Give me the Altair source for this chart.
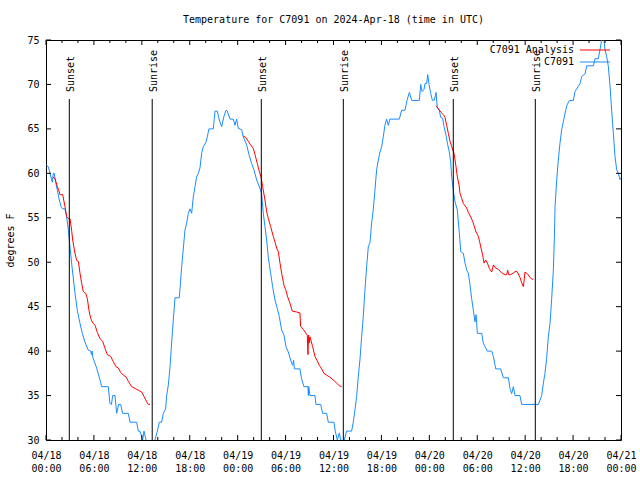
import altair as alt
import pandas as pd

MONO = "DejaVu Sans Mono"
BLUE = "#1a8cff"
RED = "#ff0000"

# hours since 2024-04-18 00:00 UTC
blue_h = [0.0, 0.3, 0.5, 0.79, 0.92, 1.04, 1.21, 1.42, 1.67, 1.88, 2.09, 2.38, 2.59, 2.8, 2.92,
          3.21, 3.63, 3.92, 4.26, 4.55, 4.88, 5.3, 5.6, 5.7, 5.78, 5.86, 6.34, 6.76, 6.97, 7.8,
          8.01, 8.2, 8.35, 8.64, 8.85, 9.1, 9.35, 9.6, 10.31, 10.52, 11.35, 11.56, 11.77, 12.1,
          12.27, 12.52, 13.0, 13.65, 13.94, 14.19, 14.48, 14.69, 14.98, 15.11, 15.32, 15.53,
          15.73, 15.94, 16.15, 16.69, 16.78, 16.99, 17.2, 17.4, 17.61, 17.82, 18.03, 18.24,
          18.45, 18.66, 18.86, 19.07, 19.28, 19.49, 19.7, 20.03, 20.2, 20.4, 20.95, 21.16,
          21.45, 21.7, 21.99, 22.28, 22.54, 22.7, 23.04, 23.45, 23.66, 23.87, 24.08, 24.5,
          24.71, 25.12, 25.42, 25.75, 26.04, 26.38, 26.71, 27.0, 27.21, 27.42, 27.63, 27.84,
          28.13, 28.38, 28.67, 28.96, 29.21, 29.5, 29.8, 30.05, 30.34, 30.63, 30.88, 31.0,
          31.1, 31.8, 32.0, 32.3, 32.8, 32.85, 32.9, 33.05, 33.68, 33.8, 34.4, 34.64, 35.14,
          35.35, 36.06, 36.22, 36.48, 36.73, 36.9, 37.1, 37.35, 37.64, 38.27, 38.48, 38.69,
          38.9, 39.1, 39.31, 39.52, 39.73, 39.94, 40.15, 40.36, 40.57, 40.77, 40.98, 41.19,
          41.4, 41.61, 41.82, 42.03, 42.23, 42.44, 42.65, 42.86, 43.07, 44.24, 44.53, 44.95,
          45.2, 45.5, 45.79, 46.75, 46.92, 47.08, 47.33, 47.46, 47.67, 47.8, 47.96, 48.17,
          48.38, 48.63, 48.84, 49.0, 49.25, 49.42, 49.67, 49.84, 50.09, 50.26, 50.5, 50.67,
          50.8, 51.0, 51.22, 51.5, 51.76, 51.93, 52.26, 52.47, 52.68, 52.89, 53.1, 53.3,
          53.51, 53.72, 53.85, 54.01, 54.56, 54.76, 54.97, 55.27, 55.81, 56.02, 56.31, 56.93,
          57.27, 57.9, 58.1, 58.31, 58.52, 58.73, 59.35, 59.56, 61.65, 61.86, 62.07, 62.28,
          62.48, 62.69, 62.9, 63.11, 63.32, 63.53, 63.65, 63.74, 63.95, 64.15, 64.36, 64.57,
          64.78, 64.99, 65.2, 65.53, 66.03, 66.24, 66.87, 67.08, 67.5, 67.71, 68.54, 68.75,
          69.16, 69.37, 69.58, 69.75, 69.87, 70.0, 70.21, 70.42, 70.63, 70.83, 71.04, 71.25,
          71.46, 71.67, 71.88, 72.0]
blue_v = [61, 60.7, 60, 59, 60, 60, 59, 58.1, 57, 56.25, 56, 56, 55.1, 53.6, 52.5,
          49.9, 46.5, 44.6, 43.1, 42, 41, 40.1, 40, 39.6, 40, 39.3, 38.1, 36.75, 36, 36,
          34.1, 34, 35, 35, 33, 34, 34, 33, 33, 32, 32, 31, 31, 30,
          31, 30, 29, 30, 31, 32, 32, 33, 33.5, 35, 36.2, 38.25,
          40.9, 43.5, 46, 46, 47, 49.5, 51.6, 53.6, 54.4, 55.5, 56, 55.5,
          57.4, 58.5, 59.6, 60, 60.6, 62.25, 63, 63.5, 64.1, 65, 65, 67,
          67, 66, 65.25, 66.4, 67.1, 67, 66.1, 66.1, 65.4, 66.1, 65.06, 64.9,
          64.1, 63.2, 62.1, 61.1, 60.4, 59.25, 58.5, 57.75, 55.5, 54, 52.5, 50.5,
          48.75, 47.25, 45.75, 44.8, 43.9, 42.4, 41.8, 40.5, 39.9, 39, 38.4, 39,
          38, 38, 36.9, 36, 36, 35, 36, 35, 35, 34, 34, 33, 33,
          32, 32, 31, 30, 30.8, 30, 29.3, 30, 31, 31, 32, 33.4,
          34.9, 37.1, 39, 41.6, 43.9, 46.9, 49.5, 51.75, 52.2, 54.4, 55.9, 58.1,
          60.4, 61.5, 62.4, 63, 64.1, 65.4, 66.1, 65.4, 66.1, 66.1, 67.1, 67.1,
          68.2, 69.1, 68.2, 68.2, 70, 69.2, 69.4, 70.1, 70.1, 71.1, 70, 69,
          68.2, 68.25, 69.1, 67.3, 67.1, 66.3, 66.2, 65.25, 64.3, 63.4, 62.4, 61.3,
          59.6, 58.1, 56.8, 55.9, 53.25, 51.2, 51, 49.9, 49.1, 48.75, 47.4, 45.9,
          44.6, 43.3, 44.1, 42, 42, 40.9, 40.5, 40, 40, 39.4, 38, 38,
          37, 37, 35.8, 35.2, 36, 35, 35, 34, 34, 34.5, 35, 36.4,
          37.5, 39.2, 41.6, 43.1, 45.9, 49.1, 52.5, 56.25, 59.25, 61.5, 63.4, 64.9,
          65.8, 66.75, 67.6, 68.2, 68.2, 69.2, 70.1, 70.9, 71.2, 72.1, 72.1, 72.9,
          72.9, 73.9, 75, 75.5, 75, 73.9, 73.1, 72, 69.75, 67.1, 64.5, 61.9,
          60.4, 60, 59.3, 59.5]

red1_h = [0.83, 1.13, 1.42, 1.67, 1.75, 2.09, 2.38, 2.59, 2.8, 3.0, 3.21, 3.34, 3.63, 3.84,
          4.05, 4.26, 4.47, 4.67, 4.97, 5.18, 5.38, 5.59, 5.84, 6.14, 6.43, 6.76, 7.1, 7.39,
          7.68, 8.1, 8.43, 8.76, 9.06, 9.35, 9.68, 10.02, 10.31, 10.73, 11.14, 11.56, 11.98,
          12.27, 12.6, 12.81, 13.02]
red1_v = [59.6, 59.4, 58.5, 57.9, 57.6, 57.6, 56.25, 55.1, 54.9, 54.9, 53.6, 52.5, 51, 50.2,
          50.1, 48.75, 47.6, 46.7, 46.5, 45.9, 44.6, 43.7, 43.2, 42.9, 42.1, 41.4, 41.1, 40.3,
          39.6, 39.4, 38.8, 38.25, 38.1, 37.6, 37.3, 37.1, 36.6, 36, 35.8, 35.6, 35.4,
          34.9, 34.3, 34.0, 34.0]
red2_h = [24.71, 25.0, 25.33, 25.62, 25.96, 26.17, 26.46, 26.71, 26.92, 27.13, 27.42, 27.63,
          27.84, 28.13, 28.46, 28.7, 28.88, 29.09, 29.3, 29.51, 29.8, 30.0, 30.26, 30.55,
          30.84, 31.38, 31.8, 31.88, 32.22, 32.55, 32.72, 32.8, 32.88, 32.95, 33.05, 33.39,
          33.68, 33.97, 34.22, 34.51, 34.81, 35.14, 35.56, 35.97, 36.39, 36.73, 37.02]
red2_v = [64.2, 64.05, 63.6, 63.2, 62.8, 62.1, 61.1, 60.2, 59.6, 58.5, 57, 55.7,
          54.9, 54, 52.9, 52.2, 51.6, 51.2, 49.9, 48.75, 47.4, 46.95, 46.1, 45.4,
          44.5, 44.4, 44.3, 42.8, 42.45, 42.0, 41.8, 39.6, 41.8, 40.9, 41.6, 40.5,
          39.4, 38.9, 38.4, 38, 37.5, 37.3, 37.05, 36.75, 36.4, 36.1, 36.0]
red3_h = [48.84, 49.13, 49.42, 49.76, 49.96, 50.17, 50.38, 50.59, 50.8, 51.09, 51.34, 51.51,
          51.72, 51.84, 52.05, 52.26, 52.68, 52.89, 53.18, 53.43, 53.85, 54.14, 54.3, 54.47,
          54.68, 54.85, 55.06, 55.27, 55.52, 55.81, 56.02, 56.23, 56.64, 57.06, 57.48, 57.69,
          57.81, 57.94, 58.19, 58.52, 58.85, 59.02, 59.35, 59.56, 59.77, 59.85, 59.98, 60.27,
          60.61, 60.82, 61.02]
red3_v = [67.6, 67.3, 66.9, 66.6, 66.3, 65.4, 64.5, 63.6, 63, 62.25, 60.75, 59.6,
          58.7, 57.75, 57.2, 56.6, 56.1, 55.6, 55.1, 54.6, 53.4, 52.9, 52.3, 51.6,
          50.8, 49.9, 50.25, 49.9, 49.3, 48.9, 49.7, 49.4, 49.2, 48.8, 48.6, 48.6,
          49.1, 48.6, 48.6, 48.8, 49.0, 48.9, 48.3, 47.7, 47.25, 47.8, 48.9, 48.7,
          48.3, 48.1, 48.1]

event_h = [2.92, 13.30, 26.96, 37.23, 51.0, 61.27]
event_label = ["Sunset", "Sunrise", "Sunset", "Sunrise", "Sunset", "Sunrise"]

x_major = [0, 6, 12, 18, 24, 30, 36, 42, 48, 54, 60, 66, 72]
x_all_ticks = list(range(0, 73, 2))
y_ticks = [30, 35, 40, 45, 50, 55, 60, 65, 70, 75]

W, H = 575, 400

blue_df = pd.DataFrame({"h": blue_h, "v": blue_v})
red_df = pd.DataFrame({
    "h": red1_h + red2_h + red3_h,
    "v": red1_v + red2_v + red3_v,
    "seg": [1] * len(red1_h) + [2] * len(red2_h) + [3] * len(red3_h),
})
ev_df = pd.DataFrame({"h": event_h, "label": event_label})
xt_df = pd.DataFrame({"h": x_all_ticks, "len": [5 if t % 6 == 0 else 3 for t in x_all_ticks]})
yt_df = pd.DataFrame({"v": y_ticks})

xs = alt.Scale(domain=[0, 72], nice=False, zero=False)
ys = alt.Scale(domain=[30, 75], nice=False, zero=False)

x_axis = alt.Axis(
    values=x_major, ticks=False, domain=False, grid=False, title=None,
    labelFont=MONO, labelFontSize=10, labelColor="black", labelPadding=10,
    labelLineHeight=13, labelFlush=False, labelOverlap=False, labelBound=False,
    labelAlign="center", labelBaseline="top",
    labelExpr="['04/' + (18 + floor(datum.value / 24)), (datum.value % 24 < 10 ? '0' : '') + (datum.value % 24) + ':00']",
)
y_axis = alt.Axis(
    values=y_ticks, ticks=False, domain=False, grid=False,
    labelFont=MONO, labelFontSize=10, labelColor="black", labelPadding=7,
    labelOverlap=False, labelFlush=False,
    title="degrees F", titleFont=MONO, titleFontSize=10, titleFontWeight="normal",
    titleColor="black", titleX=-36, titleY=200, titleAngle=270,
    titleAlign="center", titleBaseline="middle",
)

blue = alt.Chart(blue_df).mark_line(color=BLUE, strokeWidth=1, clip=True).encode(
    x=alt.X("h:Q", scale=xs, axis=x_axis),
    y=alt.Y("v:Q", scale=ys, axis=y_axis),
)
red = alt.Chart(red_df).mark_line(color=RED, strokeWidth=1, clip=True).encode(
    x=alt.X("h:Q", scale=xs),
    y=alt.Y("v:Q", scale=ys),
    detail="seg:N",
)
ev_rule = alt.Chart(ev_df).mark_rule(color="black", strokeWidth=1).encode(
    x=alt.X("h:Q", scale=xs),
    y=alt.value(59), y2=alt.value(H),
)
ev_text = alt.Chart(ev_df).mark_text(
    font=MONO, fontSize=10, angle=270, align="left", baseline="middle", dy=2, color="black"
).encode(
    x=alt.X("h:Q", scale=xs),
    y=alt.value(52),
    text="label:N",
)
# inward ticks on all four sides
xt_b = alt.Chart(xt_df).transform_calculate(y0=f"{H}", y1=f"{H} - datum.len").mark_rule(
    color="black", strokeWidth=1).encode(
    x=alt.X("h:Q", scale=xs),
    y=alt.Y("y0:Q", scale=None), y2="y1:Q",
)
xt_t = alt.Chart(xt_df).transform_calculate(y0="0", y1="datum.len").mark_rule(
    color="black", strokeWidth=1).encode(
    x=alt.X("h:Q", scale=xs),
    y=alt.Y("y0:Q", scale=None), y2="y1:Q",
)
yt_l = alt.Chart(yt_df).mark_rule(color="black", strokeWidth=1).encode(
    y=alt.Y("v:Q", scale=ys), x=alt.value(0), x2=alt.value(5),
)
yt_r = alt.Chart(yt_df).mark_rule(color="black", strokeWidth=1).encode(
    y=alt.Y("v:Q", scale=ys), x=alt.value(W - 5), x2=alt.value(W),
)

leg_txt1 = alt.Chart().mark_text(font=MONO, fontSize=10, align="right", baseline="middle",
                                 color="black", text="C7091 Analysis").encode(
    x=alt.value(528), y=alt.value(10))
leg_txt2 = alt.Chart().mark_text(font=MONO, fontSize=10, align="right", baseline="middle",
                                 color="black", text="C7091").encode(
    x=alt.value(528), y=alt.value(22))
leg_red = alt.Chart().mark_rule(color=RED, strokeWidth=1).encode(
    x=alt.value(534), x2=alt.value(564), y=alt.value(10))
leg_blue = alt.Chart().mark_rule(color=BLUE, strokeWidth=1).encode(
    x=alt.value(534), x2=alt.value(564), y=alt.value(22))

chart = alt.layer(
    blue, red, ev_rule, ev_text, xt_b, xt_t, yt_l, yt_r,
    leg_txt1, leg_txt2, leg_red, leg_blue,
).properties(
    width=W, height=H,
    title=alt.TitleParams(
        text="Temperature for C7091 on 2024-Apr-18 (time in UTC)",
        font=MONO, fontSize=10, fontWeight="normal", color="black",
        anchor="middle", offset=10,
    ),
    autosize=alt.AutoSizeParams(type="none"),
    padding={"left": 46, "top": 40, "right": 19, "bottom": 40},
    background="white",
).configure_view(stroke="black", strokeWidth=1)

chart.save("out.html", embed_options={"renderer": "svg", "actions": False})
